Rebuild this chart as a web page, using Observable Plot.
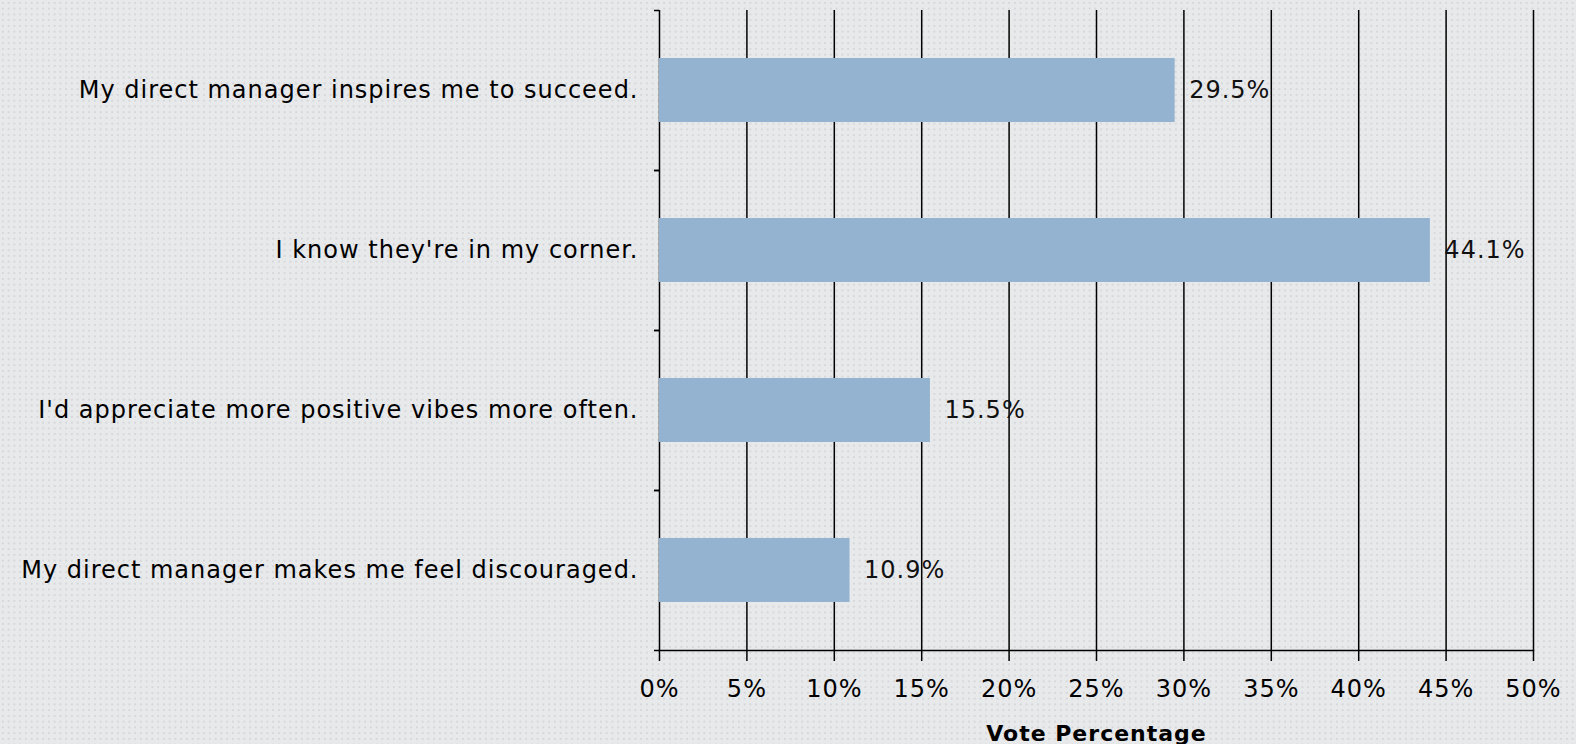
<!DOCTYPE html>
<html>
<head>
<meta charset="utf-8">
<script src="https://cdn.jsdelivr.net/npm/d3@7"></script>
<script src="https://cdn.jsdelivr.net/npm/@observablehq/plot@0.6"></script>
<style>
  html, body { margin: 0; padding: 0; }
  body {
    width: 1576px; height: 744px; overflow: hidden;
    background-color: #e8e9eb;
    background-image: radial-gradient(circle, #d6d7da 1px, transparent 1.4px);
    background-size: 5.75px 5.75px;
  }
  #chart svg { display: block; }
</style>
</head>
<body>
<div id="chart"></div>
<script>
const categories = [
  "My direct manager inspires me to succeed.",
  "I know they're in my corner.",
  "I'd appreciate more positive vibes more often.",
  "My direct manager makes me feel discouraged."
];
const values = [29.5, 44.1, 15.5, 10.9];
const xTicks = [0, 5, 10, 15, 20, 25, 30, 35, 40, 45, 50];
const xLabel = "Vote Percentage";

const data = categories.map((c, i) => ({category: c, value: values[i]}));
const fmt = d => d + "%";

const chart = Plot.plot({
  width: 1576,
  height: 744,
  marginLeft: 659,
  marginRight: 43,
  marginTop: 10,
  marginBottom: 94,
  style: {background: "transparent", fontFamily: "'DejaVu Sans', sans-serif", fontSize: "24px", letterSpacing: "1px", color: "#000"},
  x: {domain: [0, 50], ticks: xTicks, tickFormat: fmt},
  y: {domain: categories, paddingInner: 0.6, paddingOuter: 0.3},
  marks: [
    Plot.gridX(xTicks, {stroke: "#000", strokeOpacity: 1, strokeWidth: 1.5}),
    Plot.barX(data, {x: "value", y: "category", fill: "#93b3d1"}),
    Plot.text(data, {x: "value", y: "category", text: d => d.value.toFixed(1) + "%", textAnchor: "start", dx: 14, fontSize: 24, fill: "#111"}),
    Plot.frame({anchor: "bottom", stroke: "#000", strokeWidth: 1.5}),
    Plot.axisX(xTicks, {tickSize: 11, tickPadding: 18, tickFormat: fmt, stroke: "#000", strokeWidth: 1.5, fontSize: 24, label: null}),
    Plot.axisY({tickSize: 0, tickPadding: 21, fontSize: 24, label: null}),
    Plot.axisY({tickSize: 5, text: null, dy: -80, stroke: "#000", strokeWidth: 1.5, label: null}),
    Plot.axisY({tickSize: 5, text: null, dy: 80, stroke: "#000", strokeWidth: 1.5, label: null}),
    Plot.text([xLabel], {frameAnchor: "bottom", dy: 90, fontWeight: "bold", fontSize: 22, fill: "#000", style: "letter-spacing:0.5px"})
  ]
});
document.getElementById("chart").appendChild(chart);
</script>
</body>
</html>
